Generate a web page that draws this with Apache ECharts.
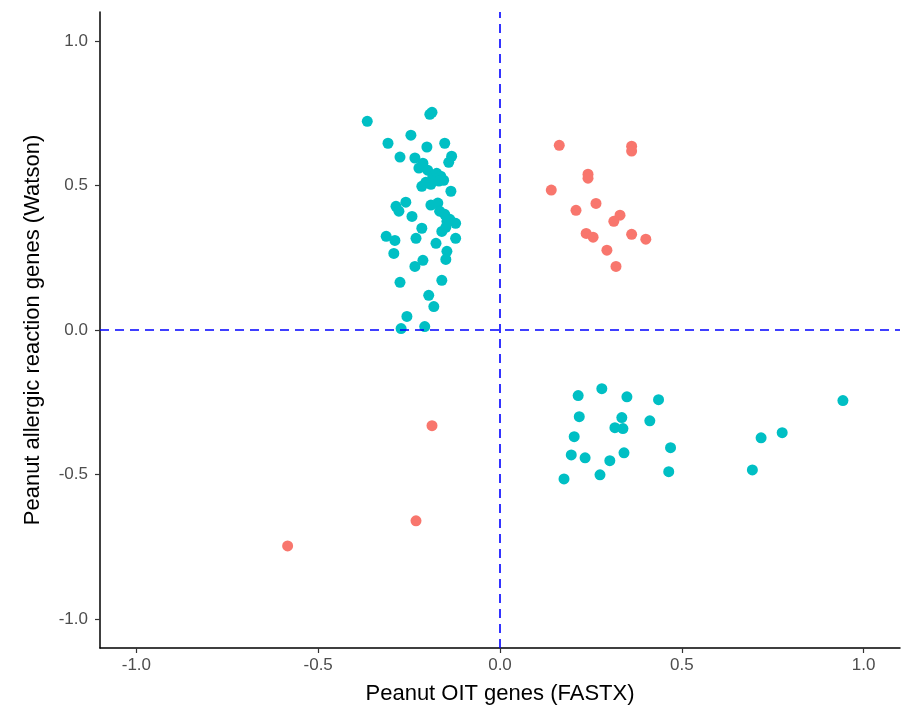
<!DOCTYPE html>
<html>
<head>
<meta charset="utf-8">
<script src="https://cdn.jsdelivr.net/npm/echarts@6/dist/echarts.min.js"></script>
<style>html,body{margin:0;padding:0;background:#fff;}#c{width:908px;height:715px;}</style>
</head>
<body>
<div id="c"></div>
<script>
// Teal group (x = FASTX, y = Watson)
var tealX = [-0.365,-0.308,-0.245,-0.193,-0.187,-0.152,-0.275,-0.201,-0.234,-0.212,-0.133,-0.141,-0.223,-0.199,-0.185,-0.174,-0.163,-0.155,-0.204,-0.190,-0.215,-0.135,-0.168,
  -0.286,-0.259,-0.278,-0.242,-0.190,-0.171,-0.166,-0.152,-0.138,-0.122,-0.146,-0.160,-0.149,-0.215,-0.122,-0.313,-0.289,-0.231,-0.176,-0.292,-0.146,-0.149,-0.234,-0.212,
  -0.275,-0.160,-0.196,-0.182,-0.256,-0.272,-0.207,
  0.280,0.215,0.349,0.436,0.218,0.335,0.412,0.316,0.338,0.204,0.469,0.196,0.234,0.341,0.302,0.464,0.275,0.176,0.943,0.776,0.718,0.694];
var tealY = [0.722,0.646,0.674,0.746,0.753,0.646,0.598,0.633,0.595,0.577,0.601,0.580,0.560,0.553,0.529,0.542,0.532,0.518,0.511,0.504,0.497,0.480,0.515,
  0.428,0.442,0.411,0.393,0.432,0.439,0.411,0.400,0.383,0.369,0.376,0.341,0.355,0.352,0.317,0.324,0.310,0.317,0.300,0.265,0.272,0.244,0.220,0.241,
  0.165,0.172,0.120,0.081,0.047,0.005,0.012,
  -0.203,-0.227,-0.231,-0.241,-0.300,-0.303,-0.314,-0.338,-0.341,-0.369,-0.407,-0.432,-0.442,-0.425,-0.452,-0.490,-0.501,-0.515,-0.244,-0.355,-0.373,-0.484];
// Red group
var redX = [0.163,0.362,0.362,0.242,0.242,0.141,0.264,0.209,0.330,0.313,0.237,0.256,0.362,0.401,0.294,0.319,-0.187,-0.231,-0.584];
var redY = [0.639,0.636,0.619,0.539,0.525,0.484,0.438,0.414,0.397,0.376,0.334,0.321,0.331,0.314,0.276,0.220,-0.331,-0.660,-0.747];
var tickVals = [-1.0,-0.5,0.0,0.5,1.0];
var xTitle = 'Peanut OIT genes (FASTX)';
var yTitle = 'Peanut allergic reaction genes (Watson)';

function pairs(xs, ys){ return xs.map(function(v,i){ return [v, ys[i]]; }); }
var font = 'Liberation Sans, Arial, sans-serif';
function axis(name, gap, margin){
  return {
    type:'value', min:-1.1, max:1.1,
    name:name, nameLocation:'middle', nameGap:gap,
    nameTextStyle:{color:'#000', fontSize:22, fontFamily:font},
    axisLine:{show:true, onZero:false, lineStyle:{color:'#000', width:1.5}},
    axisTick:{show:true, length:5, customValues:tickVals, lineStyle:{color:'#333', width:1.2}},
    axisLabel:{customValues:tickVals, color:'#4D4D4D', fontSize:17, fontFamily:font, margin:margin,
      formatter:function(v){ return Number(v).toFixed(1); }},
    splitLine:{show:false}
  };
}
var chart = echarts.init(document.getElementById('c'));
chart.setOption({
  animation:false,
  backgroundColor:'#fff',
  grid:{left:100, right:8, top:12, bottom:67, containLabel:false},
  xAxis: axis(xTitle, 35, 9),
  yAxis: axis(yTitle, 56, 12),
  series:[
    {type:'scatter', data:pairs(redX, redY), symbolSize:11, itemStyle:{color:'#F8766D', opacity:1}, z:3,
     markLine:{silent:true, symbol:'none', label:{show:false},
       lineStyle:{color:'#0000FF', type:[9,6], width:1.6},
       data:[{xAxis:0},{yAxis:0}]}},
    {type:'scatter', data:pairs(tealX, tealY), symbolSize:11, itemStyle:{color:'#00BFC4', opacity:1}, z:3}
  ]
});
</script>
</body>
</html>
